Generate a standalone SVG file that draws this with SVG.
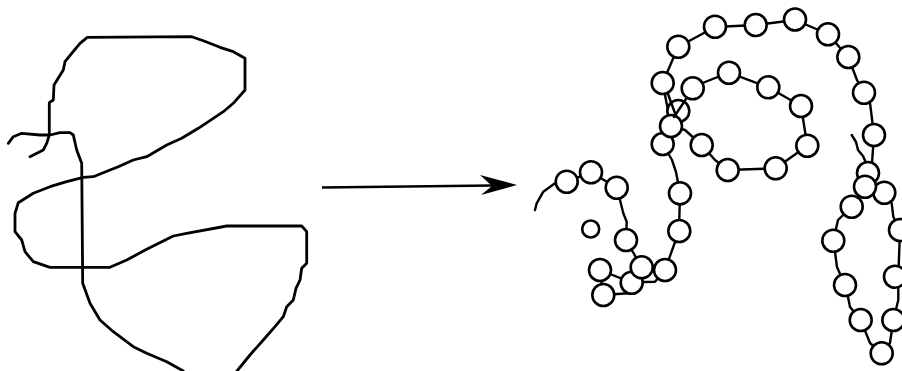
<svg xmlns="http://www.w3.org/2000/svg" width="902" height="371" viewBox="0 0 902 371">
<style>
.stroke{fill:none;stroke:#000;stroke-width:2.8;stroke-linejoin:round;stroke-linecap:round}
.ln{fill:none;stroke:#000;stroke-width:2.4;stroke-linejoin:round;stroke-linecap:round}
.c{fill:#fff;stroke:#000;stroke-width:2.6}
</style>
<rect width="902" height="371" fill="#fff"/>
<g id="sketch">
<path class="stroke" d="M8.3,143.3 L13.3,136.7 L21.7,133.3 L40,135 L50,135 L60,132.7 L70,132.7 L73.3,135 L76.7,150 L81.7,163.3 L82.7,283.3 L90,303.3 L100,320 L113.3,331.7 L133.3,346.7 L146.7,353.3 L166.7,361.7 L183.3,371"/>
<path class="stroke" d="M30,156.7 L43.3,150 L46.7,143.3 L49.3,135 L49.3,102.7 L53.3,100 L54,85 L63.3,70 L65,61.7 L71.7,53.3 L80,43.3 L87.3,37.3 L191.7,36.7 L203.3,40.7 L220,47.3 L233.3,51.7 L245,58.3 L245,90 L233.3,103.3 L223.3,111.7 L213.3,118.3 L198.3,128.3 L181.7,138.3 L166.7,145 L146.7,156.7 L133.3,160 L118.3,166.7 L110,170 L93.3,176.7 L83.3,177.3 L66.7,181.7 L50,186.7 L33.3,193.3 L18.3,202.7 L15,213.3 L15,231.7 L21.7,240 L25,251.7 L33.3,261.7 L50,267.3 L110,267.3 L126.7,260 L146.7,249.3 L173.3,236 L186.7,233.3 L226.7,226 L301.7,226 L306.7,231.7 L306.7,263.3 L301.7,268.3 L300,280 L296,288.3 L293.3,300 L286.7,306.7 L283.3,316.7 L275,326.7 L263.3,340 L250,355 L237,371"/>
</g>
<g id="arrow">
<line x1="322" y1="187.5" x2="492" y2="185.5" stroke="#000" stroke-width="2.6"/>
<polygon points="517,185 480,175 492,186 481,195" fill="#000"/>
</g>
<g id="connectors">
<path class="ln" d="M535,210 L536.7,203.3 L543.3,191.7 L555,183.3 L566.7,181.7 L591,172.3 L616.7,187.7 L620,200 L623.3,213.3 L626.7,221.7 L626,240 L641.7,267.3"/>
<path class="ln" d="M600,270 L603,295 L631.7,293 L631.7,282.7 L643,282 L655,281.7 L665,270 L679,231 L680,193 L676,172 L672,160 L662.7,144 L671,126 L662.7,83 L678,47 L715,27 L756,25 L795,20 L828,34 L848,57 L852,67 L857,80 L864,93 L870,103 L874,135 L872,163 L868,173"/>
<path class="ln" d="M600,270 L631.7,282.7"/>
<path class="ln" d="M671,126 L685,130 L701.7,145 L715,160 L727.7,170 L775.7,168.3 L807.3,145.7 L801,106 L768.3,87.3 L729,72.7 L705,82 L692.7,88.3"/>
<path class="ln" d="M851.7,135 L856,142 L858,150 L863,156 L866,163 L870,166"/>
<path class="ln" d="M865,186 L851.7,206.7 L838,220 L833.3,240.7 L835,252 L837,267 L845,285 L848,297 L850,307 L860.7,320 L870,343 L881.7,353.3 L890,343 L893.3,320 L898.3,300 L898.3,276.7 L900,230 L893.3,216.7 L891.7,203.3 L884.3,192.7"/>
</g>
<g id="beads">
<circle id="n1" class="c" cx="566.7" cy="181.7" r="11"/>
<circle id="n2" class="c" cx="591" cy="172.3" r="11"/>
<circle id="n3" class="c" cx="616.7" cy="187.7" r="11"/>
<circle id="n4" class="c" cx="590.7" cy="229" r="8.5"/>
<circle id="n5" class="c" cx="626" cy="240" r="11"/>
<circle id="n6" class="c" cx="600" cy="270" r="11"/>
<circle id="n7" class="c" cx="603.3" cy="295" r="11"/>
<circle id="n8" class="c" cx="631.7" cy="282.7" r="11"/>
<circle id="n9" class="c" cx="641.7" cy="267.3" r="11"/>
<circle id="n10" class="c" cx="665" cy="270" r="11"/>
<circle id="n11" class="c" cx="679.3" cy="231" r="11"/>
<circle id="n12" class="c" cx="680" cy="193.3" r="11"/>
<circle id="n13" class="c" cx="678.3" cy="111" r="11"/>
<circle id="n14" class="c" cx="662.7" cy="144" r="11"/>
<circle id="n15" class="c" cx="671" cy="126" r="11"/>
<circle id="n16" class="c" cx="662.7" cy="83" r="11"/>
<circle id="n17" class="c" cx="678.3" cy="46.7" r="11"/>
<circle id="n18" class="c" cx="715" cy="26.7" r="11"/>
<circle id="n19" class="c" cx="755.7" cy="25" r="11"/>
<circle id="n20" class="c" cx="795" cy="19.5" r="11"/>
<circle id="n21" class="c" cx="828" cy="34.3" r="11"/>
<circle id="n22" class="c" cx="848.3" cy="57" r="11"/>
<circle id="n23" class="c" cx="864" cy="92.7" r="11"/>
<circle id="n24" class="c" cx="874" cy="135" r="11"/>
<circle id="n25" class="c" cx="868" cy="173" r="11"/>
<circle id="n26" class="c" cx="884.3" cy="192.7" r="11"/>
<circle id="n27" class="c" cx="865" cy="186.7" r="11"/>
<circle id="n28" class="c" cx="851.7" cy="206.7" r="11"/>
<circle id="n29" class="c" cx="833.3" cy="240.7" r="11"/>
<circle id="n30" class="c" cx="845" cy="285" r="11"/>
<circle id="n31" class="c" cx="860.7" cy="320" r="11"/>
<circle id="n32" class="c" cx="881.7" cy="353.3" r="11"/>
<circle id="n33" class="c" cx="893.3" cy="320" r="11"/>
<circle id="n34" class="c" cx="895" cy="276.7" r="11"/>
<circle id="n35" class="c" cx="900" cy="230" r="11"/>
<circle id="n36" class="c" cx="692.7" cy="88.3" r="11"/>
<circle id="n37" class="c" cx="729" cy="72.7" r="11"/>
<circle id="n38" class="c" cx="768.3" cy="87.3" r="11"/>
<circle id="n39" class="c" cx="801" cy="106" r="11"/>
<circle id="n40" class="c" cx="807.3" cy="145.7" r="11"/>
<circle id="n41" class="c" cx="775.7" cy="168.3" r="11"/>
<circle id="n42" class="c" cx="727.7" cy="170" r="11"/>
<circle id="n43" class="c" cx="701.7" cy="145" r="11"/>
</g>
<g id="crossing">
<path class="ln" d="M668,94 L672,105 L676,116"/>
<path class="ln" d="M686,99 L678,111 L674,117"/>
</g>
</svg>
